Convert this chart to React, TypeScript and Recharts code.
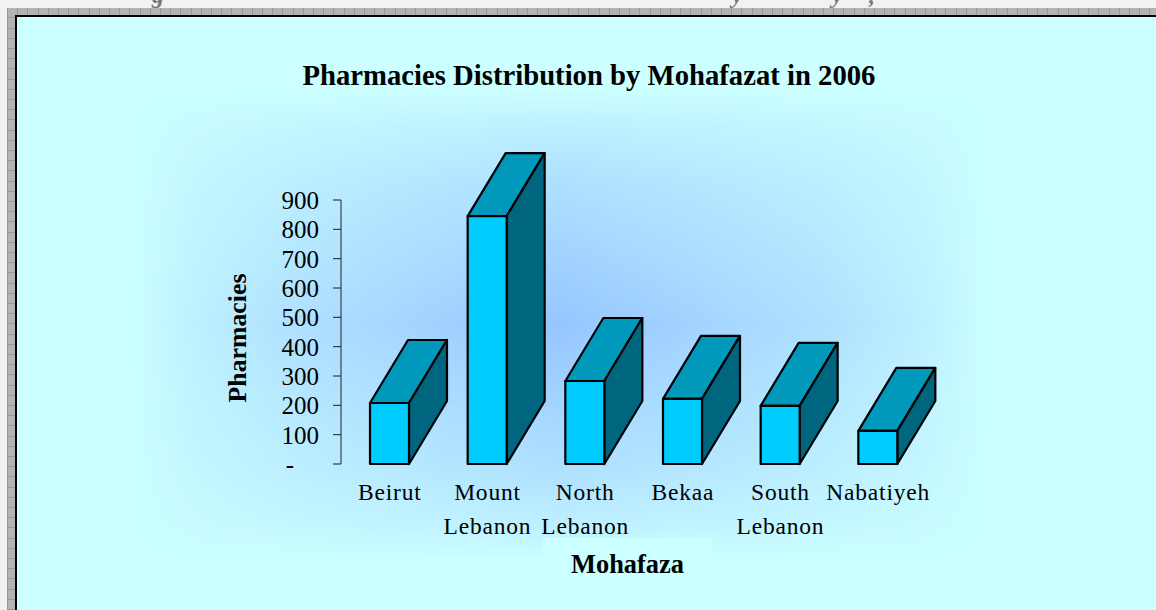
import { BarChart, Bar, XAxis, YAxis } from 'recharts';

const categories = ['Beirut', 'Mount Lebanon', 'North Lebanon', 'Bekaa', 'South Lebanon', 'Nabatiyeh'];
const pharmacies = [208, 845, 283, 222, 198, 113];
const yTicks = [0, 100, 200, 300, 400, 500, 600, 700, 800, 900];

const data = categories.map((name, i) => ({ name, pharmacies: pharmacies[i] }));

const serif = '"Liberation Serif", "Times New Roman", serif';

// fake 3D box, same look as the old excel chart
const DEPTH_X = 38;
const DEPTH_Y = 63;

function Box3D({ x, y, width, height }: any) {
  const r = x + width;
  const b = y + height;
  return (
    <g stroke="#000" strokeWidth={2.2} strokeLinejoin="round">
      <polygon
        points={`${x},${y} ${r},${y} ${r + DEPTH_X},${y - DEPTH_Y} ${x + DEPTH_X},${y - DEPTH_Y}`}
        fill="#0099bb"
      />
      <polygon
        points={`${r},${y} ${r + DEPTH_X},${y - DEPTH_Y} ${r + DEPTH_X},${b - DEPTH_Y} ${r},${b}`}
        fill="#006680"
      />
      <rect x={x} y={y} width={width} height={height} fill="#00ccff" />
    </g>
  );
}

function CategoryTick({ x, y, payload }: any) {
  const lines = String(payload.value).split(' ');
  return (
    <text x={x} y={y} textAnchor="middle" fontFamily={serif} fontSize={23.5} letterSpacing={0.8} fill="#000">
      {lines.map((line, i) => (
        <tspan key={line} x={x} y={y + 30 + i * 34}>
          {line}
        </tspan>
      ))}
    </text>
  );
}

const formatTick = (value: number) => (value === 0 ? '-\u00a0\u00a0\u00a0\u00a0' : String(value));

const edge = (side: string) =>
  `linear-gradient(to ${side}, #ccffff, rgba(204,255,255,0.72) 8%, rgba(204,255,255,0.45) 20%, rgba(204,255,255,0) 50%)`;

export default function App() {
  return (
    <div style={{ position: 'absolute', left: 0, top: 0, width: 1156, height: 610, overflow: 'hidden', background: '#f2f2f2' }}>
      {/* tops of the page text cut off above the frame */}
      <div style={{ position: 'absolute', left: 0, top: -18, width: 1156, height: 26, overflow: 'hidden', color: '#777', fontFamily: serif, fontSize: 24, fontWeight: 'bold', fontStyle: 'italic' }}>
        <span style={{ position: 'absolute', left: 152, top: 0 }}>g</span>
        <span style={{ position: 'absolute', left: 732, top: 0 }}>y</span>
        <span style={{ position: 'absolute', left: 832, top: 0 }}>y</span>
        <span style={{ position: 'absolute', left: 869, top: 0 }}>,</span>
      </div>
      <div
        style={{
          position: 'absolute',
          left: 7,
          top: 8,
          width: 1149,
          height: 602,
          backgroundColor: '#b4b4b4',
          backgroundImage:
            'repeating-linear-gradient(90deg, #999 0 1px, transparent 1px 10.2px), repeating-linear-gradient(0deg, #999 0 1px, transparent 1px 10.2px)',
        }}
      />
      <div
        style={{
          position: 'absolute',
          left: 15,
          top: 15,
          width: 1141,
          height: 595,
          boxSizing: 'border-box',
          borderLeft: '2px solid #000',
          borderTop: '2px solid #000',
          background: '#ccffff',
        }}
      />
      {/* rectangular fade, four edges over a centre glow */}
      <div
        style={{
          position: 'absolute',
          left: 130,
          top: 90,
          width: 860,
          height: 470,
          background: `${edge('right')}, ${edge('left')}, ${edge('bottom')}, ${edge('top')}, #96c6ff`,
        }}
      />
      <div style={{ position: 'absolute', left: 543, top: 538, width: 169, height: 54, background: '#ccffff' }} />

      <div style={{ position: 'absolute', left: 0, top: 0 }}>
        <BarChart
          width={1156}
          height={610}
          data={data}
          margin={{ top: 200, right: 229, bottom: 0, left: 281 }}
          barSize={39}
        >
          <XAxis
            dataKey="name"
            axisLine={false}
            tickLine={false}
            interval={0}
            height={146}
            tickMargin={0}
            tick={<CategoryTick />}
          />
          <YAxis
            width={60}
            domain={[0, 900]}
            ticks={yTicks}
            interval={0}
            tickSize={8}
            tickMargin={14}
            tickFormatter={formatTick}
            stroke="#222"
            tick={{ fill: '#000', fontFamily: serif, fontSize: 25 }}
          />
          <Bar dataKey="pharmacies" isAnimationActive={false} shape={<Box3D />} />
        </BarChart>
      </div>

      <div style={{ position: 'absolute', left: 0, top: 59, width: 1178, textAlign: 'center', fontFamily: serif, fontSize: 28.7, fontWeight: 'bold', color: '#000' }}>
        Pharmacies Distribution by Mohafazat in 2006
      </div>
      <div style={{ position: 'absolute', left: 543, top: 549, width: 169, textAlign: 'center', fontFamily: serif, fontSize: 26.4, fontWeight: 'bold', color: '#000' }}>
        Mohafaza
      </div>
      <div
        style={{
          position: 'absolute',
          left: 238,
          top: 338,
          transform: 'translate(-50%, -50%) rotate(-90deg)',
          fontFamily: serif,
          fontSize: 25.8,
          fontWeight: 'bold',
          color: '#000',
        }}
      >
        Pharmacies
      </div>
    </div>
  );
}
